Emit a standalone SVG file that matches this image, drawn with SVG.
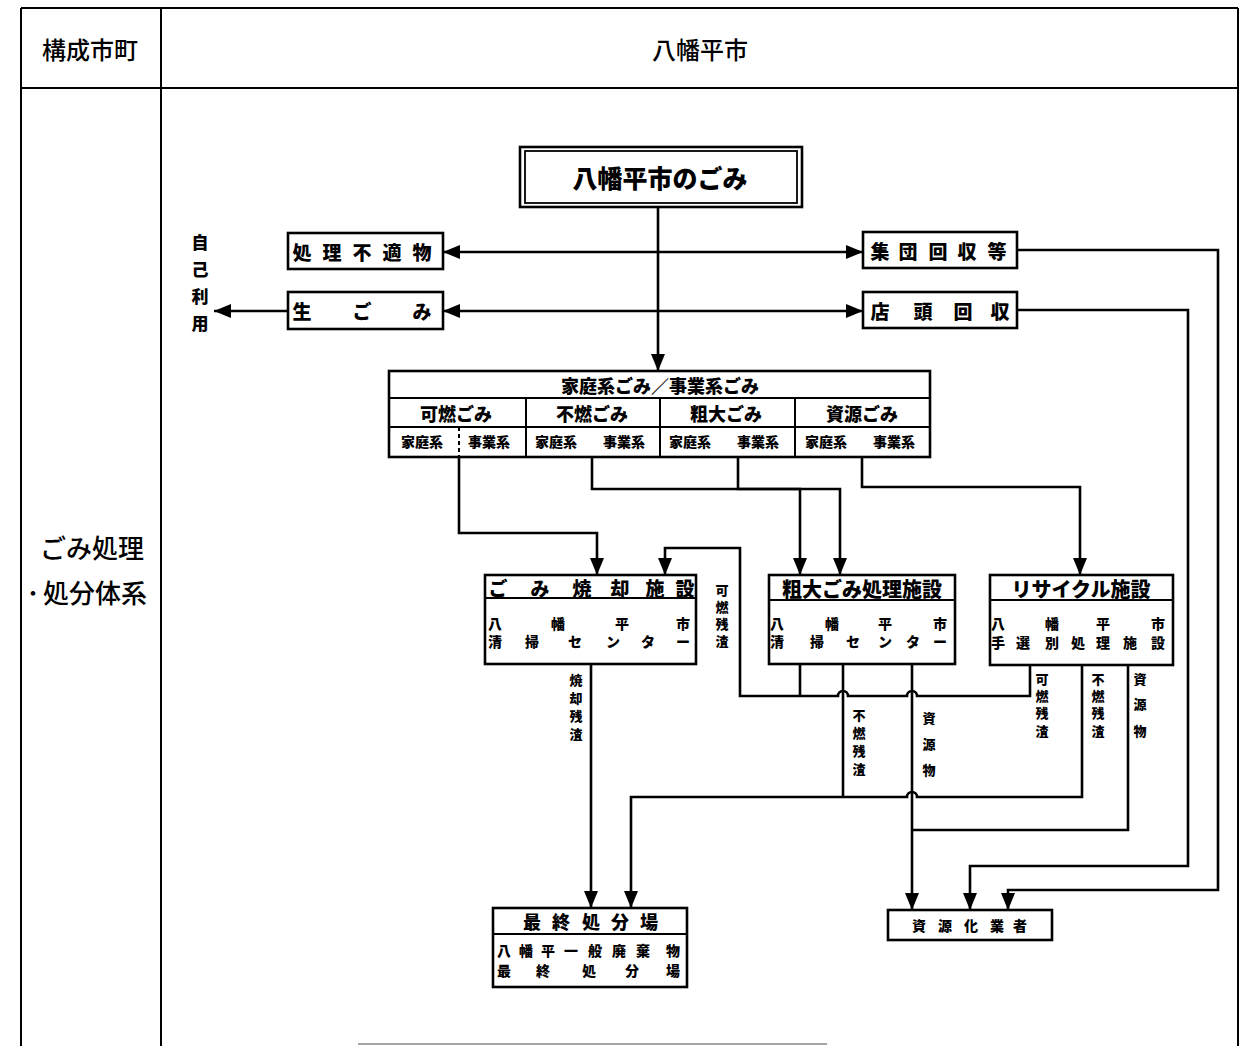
<svg xmlns="http://www.w3.org/2000/svg" width="1241" height="1046" viewBox="0 0 1241 1046">
<style>
.ln{stroke:#000;stroke-width:2.6;fill:none}
.tb{stroke:#000;stroke-width:2;fill:none}
.box{fill:#fff;stroke:#000;stroke-width:2.6}
.thin{fill:none;stroke:#000;stroke-width:1.8}
.t{font-family:"Noto Sans CJK JP","Noto Sans CJK SC",sans-serif;font-weight:900;text-anchor:middle;dominant-baseline:central;fill:#000}
.h{font-family:"Noto Sans CJK JP","Noto Sans CJK SC",sans-serif;font-weight:500;text-anchor:middle;dominant-baseline:central;fill:#000}
</style>
<defs>
<marker id="ah" viewBox="0 0 17 14" refX="17" refY="7" markerWidth="17" markerHeight="14" markerUnits="userSpaceOnUse" orient="auto-start-reverse"><path d="M0,0 L17,7 L0,14 z" fill="#000"/></marker>
</defs>
<rect width="1241" height="1046" fill="#fff"/>
<g id="table">
<path class="tb" d="M21,8 H1238 M21,8 V1046 M1238,8 V1046 M21,88 H1238 M161,8 V1046"/>
<line x1="358" y1="1044" x2="827" y2="1044" stroke="#888" stroke-width="1.5"/>
<text class="h" x="90" y="48" font-size="24">構成市町</text>
<text class="h" x="700" y="48" font-size="24">八幡平市</text>
<text class="h" x="92" y="546" font-size="26">ごみ処理</text>
<text class="h" x="33" y="591" font-size="26">･</text>
<text class="h" x="95" y="591" font-size="26">処分体系</text>
</g>
<g id="connectors">
<path class="ln" d="M658,207 V371" marker-end="url(#ah)"/>
<path class="ln" d="M443,252 H863" marker-start="url(#ah)" marker-end="url(#ah)"/>
<path class="ln" d="M443,311 H863" marker-start="url(#ah)" marker-end="url(#ah)"/>
<path class="ln" d="M288,311 H214" marker-end="url(#ah)"/>
<path class="ln" d="M1017,250 H1218 V890 H1008 V910" marker-end="url(#ah)"/>
<path class="ln" d="M1017,310 H1188 V866 H970 V910" marker-end="url(#ah)"/>
<path class="ln" d="M459,457 V533 H597 V575" marker-end="url(#ah)"/>
<path class="ln" d="M592,457 V489 H800 V575" marker-end="url(#ah)"/>
<path class="ln" d="M738,457 V489 H840 V575" marker-end="url(#ah)"/>
<path class="ln" d="M862,457 V487 H1080 V575" marker-end="url(#ah)"/>
<path class="ln" d="M800,664 V696"/>
<path class="ln" d="M1030,665 V696 H917 A5,5 0 0 0 907,696 H848 A5,5 0 0 0 838,696 H740 V548 H665 V575" marker-end="url(#ah)"/>
<path class="ln" d="M843,664 V797"/>
<path class="ln" d="M912,664 V910" marker-end="url(#ah)"/>
<path class="ln" d="M591,664 V908" marker-end="url(#ah)"/>
<path class="ln" d="M1082,665 V797 H917 A5,5 0 0 0 907,797 H631 V908" marker-end="url(#ah)"/>
<path class="ln" d="M1128,665 V830 H912"/>
<text class="t" font-size="13" x="722 722 722 722" y="589 606 623 640">可燃残渣</text>
<text class="t" font-size="13" x="576 576 576 576" y="679 697 715 733">焼却残渣</text>
<text class="t" font-size="13" x="859 859 859 859" y="714 732 750 768">不燃残渣</text>
<text class="t" font-size="13" x="929 929 929" y="717 743 769">資源物</text>
<text class="t" font-size="13" x="1042 1042 1042 1042" y="678 695 712 730">可燃残渣</text>
<text class="t" font-size="13" x="1098 1098 1098 1098" y="678 695 712 730">不燃残渣</text>
<text class="t" font-size="13" x="1140 1140 1140" y="678 703 730">資源物</text>
<text class="t" font-size="17" x="200 200 200 200" y="241 268 295 322">自己利用</text>
</g>
<g id="node-gomi">
<rect class="box" x="520" y="147" width="282" height="60"/>
<rect class="thin" x="525" y="151" width="272" height="52"/>
<text class="t" x="660" y="177" font-size="25">八幡平市のごみ</text>
</g>
<g id="node-futekibutsu">
<rect class="box" x="288" y="233" width="155" height="36"/>
<text class="t" font-size="19" x="302 332 362 392 422" y="251 251 251 251 251">処理不適物</text>
</g>
<g id="node-namagomi">
<rect class="box" x="288" y="292" width="155" height="37"/>
<text class="t" font-size="19" x="302 362 422" y="310 310 310">生ごみ</text>
</g>
<g id="node-shudan">
<rect class="box" x="863" y="232" width="154" height="36"/>
<text class="t" font-size="19" x="880 908 938 967 997" y="250 250 250 250 250">集団回収等</text>
</g>
<g id="node-tento">
<rect class="box" x="863" y="292" width="154" height="36"/>
<text class="t" font-size="19" x="880 923 963 1000" y="310 310 310 310">店頭回収</text>
</g>
<g id="node-category">
<rect class="box" x="389" y="371" width="541" height="86"/>
<path class="tb" d="M389,398 H930 M389,427 H930 M526,398 V457 M660,398 V457 M795,398 V457"/>
<path d="M459,427 V457" stroke="#000" stroke-width="2" stroke-dasharray="4,3"/>
<text class="t" x="660" y="385" font-size="18">家庭系ごみ／事業系ごみ</text>
<text class="t" x="456" y="413" font-size="18">可燃ごみ</text>
<text class="t" x="592" y="413" font-size="18">不燃ごみ</text>
<text class="t" x="726" y="413" font-size="18">粗大ごみ</text>
<text class="t" x="862" y="413" font-size="18">資源ごみ</text>
<text class="t" x="422" y="441" font-size="14">家庭系</text>
<text class="t" x="489" y="441" font-size="14">事業系</text>
<text class="t" x="556" y="441" font-size="14">家庭系</text>
<text class="t" x="624" y="441" font-size="14">事業系</text>
<text class="t" x="690" y="441" font-size="14">家庭系</text>
<text class="t" x="758" y="441" font-size="14">事業系</text>
<text class="t" x="826" y="441" font-size="14">家庭系</text>
<text class="t" x="894" y="441" font-size="14">事業系</text>
</g>
<g id="node-shokyaku">
<rect class="box" x="485" y="575" width="211" height="89"/>
<path class="tb" d="M485,598 H696"/>
<text class="t" font-size="19" x="498 540 582 620 655 685" y="587 587 587 587 587 587">ごみ焼却施設</text>
<text class="t" font-size="14" x="495 558 622 683" y="623 623 623 623">八幡平市</text>
<text class="t" font-size="14" x="495 532 575 613 648 683" y="641 641 641 641 641 641">清掃センター</text>
</g>
<g id="node-sodai">
<rect class="box" x="769" y="575" width="186" height="89"/>
<path class="tb" d="M769,600 H955"/>
<text class="t" x="862" y="588" font-size="20">粗大ごみ処理施設</text>
<text class="t" font-size="14" x="777 832 885 940" y="623 623 623 623">八幡平市</text>
<text class="t" font-size="14" x="777 817 853 885 913 940" y="641 641 641 641 641 641">清掃センター</text>
</g>
<g id="node-recycle">
<rect class="box" x="990" y="575" width="183" height="90"/>
<path class="tb" d="M990,600 H1173"/>
<text class="t" x="1081" y="588" font-size="20">リサイクル施設</text>
<text class="t" font-size="14" x="998 1052 1103 1158" y="623 623 623 623">八幡平市</text>
<text class="t" font-size="14" x="998 1023 1052 1078 1103 1130 1158" y="642 642 642 642 642 642 642">手選別処理施設</text>
</g>
<g id="node-saishu">
<rect class="box" x="493" y="908" width="194" height="79"/>
<path class="tb" d="M493,934 H687"/>
<text class="t" font-size="18" x="532 561 591 620 649" y="921 921 921 921 921">最終処分場</text>
<text class="t" font-size="14" x="504 526 548 571 595 619 643 673" y="950 950 950 950 950 950 950 950">八幡平一般廃棄物</text>
<text class="t" font-size="14" x="504 543 589 632 673" y="970 970 970 970 970">最終処分場</text>
</g>
<g id="node-shigenka">
<rect class="box" x="888" y="910" width="164" height="30"/>
<text class="t" font-size="14" x="919 945 971 997 1020" y="925 925 925 925 925">資源化業者</text>
</g>
</svg>
